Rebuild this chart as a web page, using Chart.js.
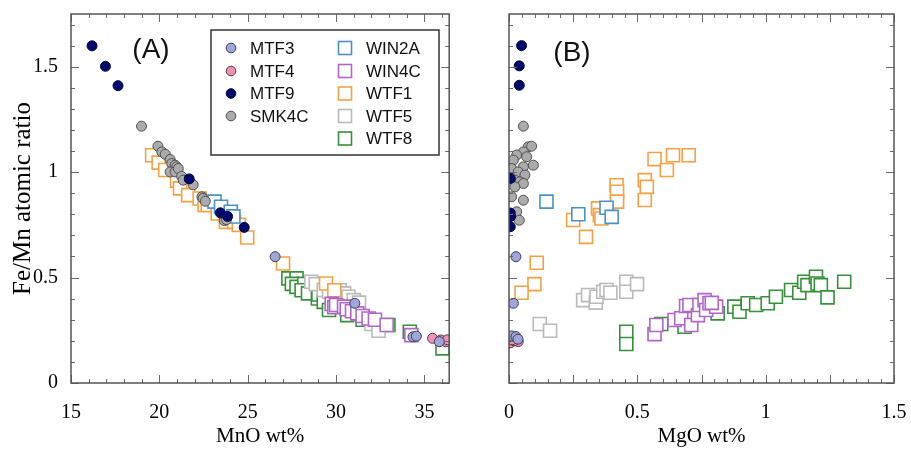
<!DOCTYPE html>
<html>
<head>
<meta charset="utf-8">
<script src="https://cdn.jsdelivr.net/npm/chart.js@4.4.1/dist/chart.umd.min.js"></script>
<style>
  html, body { margin: 0; padding: 0; background: #fff; }
  #wrap { position: relative; width: 911px; height: 449px; overflow: hidden; }
  #cA { position: absolute; left: 0; top: 0; }
  #cB { position: absolute; left: 460px; top: 0; }
</style>
</head>
<body>
<div id="wrap">
  <canvas id="cA" width="460" height="449"></canvas>
  <canvas id="cB" width="451" height="449"></canvas>
</div>
<script>
// ---- Data: [x, Fe/Mn] pairs; panel A uses MnO wt%, panel B uses MgO wt% ----
const MTF3_A = [[26.55,0.599],[31.06,0.378],[34.35,0.219],[34.54,0.222],[35.84,0.196]];
const MTF3_B = [[0.027,0.599],[0.017,0.378],[0.010,0.223],[0.027,0.220],[0.035,0.208]];

const MTF4_A = [[35.46,0.212],[35.93,0.204],[36.21,0.196],[36.30,0.205]];
const MTF4_B = [[0.036,0.196],[0.004,0.190],[0.020,0.200],[0.012,0.205]];

const MTF9_A = [[16.19,1.599],[16.95,1.502],[17.66,1.410],[21.69,0.968],[23.45,0.807],[23.86,0.790],[24.80,0.738]];
const MTF9_B = [[0.049,1.600],[0.040,1.504],[0.040,1.412],[0.005,0.970],[0.005,0.806],[0.006,0.790],[0.005,0.741]];

const SMK4C_A = [[18.99,1.218],[19.92,1.123],[20.14,1.096],[20.33,1.085],[20.61,1.060],[20.70,1.041],[20.89,1.033],
  [20.98,1.025],[20.61,1.001],[20.89,1.001],[21.07,1.017],[21.26,0.980],[21.35,0.962],[21.91,0.940],[22.41,0.883],
  [22.47,0.875],[22.60,0.862],[23.67,0.770],[23.80,0.775]];
const SMK4C_B = [[0.056,1.218],[0.075,1.120],[0.088,1.123],[0.056,1.096],[0.030,1.081],[0.069,1.073],[0.017,1.057],
  [0.095,1.033],[0.056,1.025],[0.010,1.017],[0.036,1.001],[0.062,0.986],[0.023,0.962],[0.043,0.954],[0.056,0.946],
  [0.023,0.930],[0.010,0.883],[0.056,0.867],[0.030,0.812],[0.040,0.772]];

const WIN2A_A = [[23.12,0.860],[23.49,0.836],[24.04,0.812],[24.19,0.790]];
const WIN2A_B = [[0.146,0.860],[0.270,0.800],[0.380,0.831],[0.400,0.788]];

const WIN4C_A = [[29.75,0.375],[29.90,0.360],[30.00,0.370],[30.45,0.362],[30.60,0.350],[30.90,0.340],[31.20,0.330],
  [31.50,0.318],[31.84,0.306],[32.20,0.300],[32.86,0.275],[34.26,0.227]];
const WIN4C_B = [[0.567,0.232],[0.574,0.275],[0.645,0.299],[0.671,0.307],[0.690,0.365],[0.703,0.370],[0.710,0.275],
  [0.736,0.322],[0.742,0.370],[0.762,0.393],[0.768,0.346],[0.781,0.378],[0.807,0.362],[0.790,0.380]];

const WTF1_A = [[19.59,1.080],[19.96,1.045],[20.33,1.010],[21.00,0.960],[21.17,0.923],[21.63,0.891],[22.28,0.875],
  [22.56,0.844],[22.74,0.844],[23.30,0.804],[23.76,0.764],[24.23,0.764],[24.50,0.750],[24.97,0.690],[27.00,0.567],
  [29.43,0.472],[29.90,0.440]];
const WTF1_B = [[0.567,1.062],[0.639,1.080],[0.700,1.080],[0.615,1.010],[0.529,0.962],[0.537,0.930],[0.529,0.868],
  [0.419,0.938],[0.421,0.907],[0.421,0.860],[0.347,0.828],[0.354,0.796],[0.360,0.780],[0.250,0.773],[0.300,0.693],
  [0.108,0.570],[0.099,0.469],[0.049,0.428]];

const WTF5_A = [[28.60,0.480],[28.85,0.469],[29.30,0.441],[29.60,0.433],[30.20,0.440],[30.45,0.425],[30.70,0.409],
  [31.00,0.393],[31.30,0.381],[32.00,0.280],[32.40,0.248]];
const WTF5_B = [[0.120,0.280],[0.160,0.248],[0.289,0.393],[0.308,0.417],[0.338,0.381],[0.341,0.409],[0.367,0.433],
  [0.380,0.441],[0.395,0.428],[0.457,0.480],[0.457,0.433],[0.499,0.469]];

const WTF8_A = [[27.30,0.496],[27.76,0.496],[27.50,0.470],[27.76,0.456],[28.20,0.470],[28.05,0.440],[28.41,0.425],
  [28.97,0.401],[29.00,0.420],[29.30,0.385],[29.60,0.346],[30.63,0.322],[31.50,0.300],[32.96,0.275],[34.17,0.243],
  [36.02,0.164]];
const WTF8_B = [[0.457,0.243],[0.457,0.185],[0.593,0.280],[0.684,0.267],[0.813,0.330],[0.878,0.362],[0.898,0.338],
  [0.930,0.378],[0.963,0.370],[1.008,0.378],[1.040,0.409],[1.099,0.441],[1.131,0.428],[1.150,0.480],[1.163,0.464],
  [1.196,0.504],[1.202,0.472],[1.215,0.464],[1.241,0.406],[1.306,0.480]];

// ---- Axis tick labels ----
const X_TICKS_A = [15, 20, 25, 30, 35];
const X_TICKS_B = [0, 0.5, 1, 1.5];
const Y_TICKS = [0, 0.5, 1, 1.5];

// ---- Series styling ----
const SERIES = [
  { name: 'MTF3',  kind: 'circle', fill: '#9ea6da', edge: '#3d3d55', a: MTF3_A,  b: MTF3_B },
  { name: 'MTF4',  kind: 'circle', fill: '#f291b4', edge: '#5a3a46', a: MTF4_A,  b: MTF4_B },
  { name: 'MTF9',  kind: 'circle', fill: '#000a6e', edge: '#00053a', a: MTF9_A,  b: MTF9_B },
  { name: 'SMK4C', kind: 'circle', fill: '#ababab', edge: '#505050', a: SMK4C_A, b: SMK4C_B },
  { name: 'WIN2A', kind: 'square', edge: '#4b92c8', a: WIN2A_A, b: WIN2A_B },
  { name: 'WIN4C', kind: 'square', edge: '#b066c8', a: WIN4C_A, b: WIN4C_B },
  { name: 'WTF1',  kind: 'square', edge: '#f5a142', a: WTF1_A,  b: WTF1_B },
  { name: 'WTF5',  kind: 'square', edge: '#bababa', a: WTF5_A,  b: WTF5_B },
  { name: 'WTF8',  kind: 'square', edge: '#35913a', a: WTF8_A,  b: WTF8_B }
];

const SERIF = '"Liberation Serif", "Times New Roman", serif';
const SANS = '"Liberation Sans", Arial, sans-serif';

function makeDatasets(panel) {
  return SERIES.map(s => {
    const circle = s.kind === 'circle';
    return {
      label: s.name,
      data: panel === 'A' ? s.a : s.b,
      pointStyle: circle ? 'circle' : 'rect',
      pointRadius: circle ? 5 : 9.2,
      pointBackgroundColor: circle ? s.fill : '#ffffff',
      pointBorderColor: s.edge,
      pointBorderWidth: circle ? 1 : 1.6,
      showLine: false,
      clip: 0
    };
  });
}

// Frame with inward ticks on all four sides, plus the panel tag
function frameTicksPlugin(cfg) {
  return {
    id: 'frameTicks',
    afterDatasetsDraw(chart) {
      const { ctx, chartArea: a } = chart;
      const xs = chart.scales.x, ys = chart.scales.y;
      ctx.save();
      ctx.strokeStyle = '#6a6a6a';
      ctx.lineWidth = 1;
      ctx.beginPath();
      const xTick = (v, len) => {
        const p = Math.round(xs.getPixelForValue(v)) + 0.5;
        ctx.moveTo(p, a.bottom); ctx.lineTo(p, a.bottom - len);
        ctx.moveTo(p, a.top); ctx.lineTo(p, a.top + len);
      };
      const yTick = (v, len) => {
        const p = Math.round(ys.getPixelForValue(v)) + 0.5;
        ctx.moveTo(a.left, p); ctx.lineTo(a.left + len, p);
        ctx.moveTo(a.right, p); ctx.lineTo(a.right - len, p);
      };
      for (let i = 0; ; i++) {
        const v = cfg.xMin + i * cfg.xMinor;
        if (v > xs.max + 1e-9) break;
        const isMajor = Math.abs(v / cfg.xMajor - Math.round(v / cfg.xMajor)) < 1e-6;
        xTick(v, isMajor ? 8 : 4);
      }
      for (let i = 0; ; i++) {
        const v = i * 0.1;
        if (v > ys.max + 1e-9) break;
        const isMajor = Math.abs(v / 0.5 - Math.round(v / 0.5)) < 1e-6;
        yTick(v, isMajor ? 8 : 4);
      }
      ctx.stroke();
      ctx.strokeStyle = '#555555';
      ctx.lineWidth = 1.5;
      ctx.strokeRect(a.left, a.top, a.right - a.left, a.bottom - a.top);
      ctx.restore();
    },
    afterDraw(chart) {
      const ctx = chart.ctx;
      ctx.save();
      ctx.fillStyle = '#111';
      ctx.font = '28px ' + SANS;
      ctx.textAlign = 'center';
      ctx.textBaseline = 'middle';
      ctx.fillText(cfg.tag, cfg.tagX, cfg.tagY);
      ctx.restore();
    }
  };
}

// Two-column legend drawn inside panel A
const legendPlugin = {
  id: 'boxLegend',
  afterDraw(chart) {
    const ctx = chart.ctx;
    ctx.save();
    ctx.strokeStyle = '#333';
    ctx.lineWidth = 1.5;
    ctx.strokeRect(211, 30, 228, 125);
    ctx.font = '17px ' + SANS;
    ctx.fillStyle = '#111';
    ctx.textBaseline = 'middle';
    ctx.textAlign = 'left';
    const rows = [48, 71, 93.5, 116, 138.5];
    const circles = SERIES.filter(s => s.kind === 'circle');
    const squares = SERIES.filter(s => s.kind === 'square');
    circles.forEach((s, i) => {
      const y = rows[i];
      ctx.beginPath();
      ctx.arc(231, y, 4.8, 0, Math.PI * 2);
      ctx.fillStyle = s.fill; ctx.fill();
      ctx.strokeStyle = s.edge; ctx.lineWidth = 1; ctx.stroke();
      ctx.fillStyle = '#111';
      ctx.fillText(s.name, 250, y + 1);
    });
    squares.forEach((s, i) => {
      const y = rows[i];
      ctx.strokeStyle = s.edge; ctx.lineWidth = 1.6;
      ctx.strokeRect(345 - 6.5, y - 6.5, 13, 13);
      ctx.fillStyle = '#111';
      ctx.fillText(s.name, 366, y + 1);
    });
    ctx.restore();
  }
};

function fmt(v) { return String(v); }

// Fixed axis box sizes; edge-label padding is dropped so the plot area stays put
function fixBox(size, horizontal) {
  return s => {
    if (horizontal) s.height = size; else s.width = size;
    s.paddingTop = 0; s.paddingBottom = 0; s.paddingLeft = 0; s.paddingRight = 0;
  };
}

function makeChart(canvasId, panel) {
  const isA = panel === 'A';
  const plugins = [frameTicksPlugin(isA
    ? { xMin: 15, xMinor: 1, xMajor: 5, tag: '(A)', tagX: 151, tagY: 50 }
    : { xMin: 0, xMinor: 0.05, xMajor: 0.25, tag: '(B)', tagX: 112, tagY: 53 })];
  if (isA) plugins.push(legendPlugin);
  return new Chart(document.getElementById(canvasId), {
    type: 'scatter',
    data: { datasets: makeDatasets(panel) },
    plugins,
    options: {
      responsive: false,
      devicePixelRatio: 1,
      animation: false,
      events: [],
      layout: { padding: { left: 0, top: 14, right: isA ? 5 : 17, bottom: 0 } },
      plugins: { legend: { display: false }, tooltip: { enabled: false } },
      scales: {
        x: {
          type: 'linear',
          min: isA ? 15 : 0,
          max: isA ? 36.4 : 1.5,
          grid: { display: false, drawTicks: false },
          border: { display: false },
          afterBuildTicks: s => { s.ticks = (isA ? X_TICKS_A : X_TICKS_B).map(v => ({ value: v })); },
          afterFit: fixBox(66, true),
          ticks: {
            autoSkip: false, maxRotation: 0, padding: 18, color: '#000',
            font: { family: SERIF, size: 20 },
            callback: v => fmt(v)
          },
          title: {
            display: true, text: isA ? 'MnO wt%' : 'MgO wt%', color: '#000',
            font: { family: SERIF, size: 21 }, padding: { top: 0, bottom: 0 }
          }
        },
        y: {
          type: 'linear',
          min: 0,
          max: 1.75,
          grid: { display: false, drawTicks: false },
          border: { display: false },
          afterBuildTicks: s => { s.ticks = Y_TICKS.map(v => ({ value: v })); },
          afterFit: fixBox(isA ? 71 : 49, false),
          ticks: {
            display: isA, autoSkip: false, padding: 13, color: '#000',
            font: { family: SERIF, size: 20 },
            callback: v => fmt(v)
          },
          title: {
            display: isA, text: 'Fe/Mn atomic ratio', color: '#000',
            font: { family: SERIF, size: 25 }, padding: { top: 8, bottom: 0 }
          }
        }
      }
    }
  });
}

makeChart('cA', 'A');
makeChart('cB', 'B');
</script>
</body>
</html>
